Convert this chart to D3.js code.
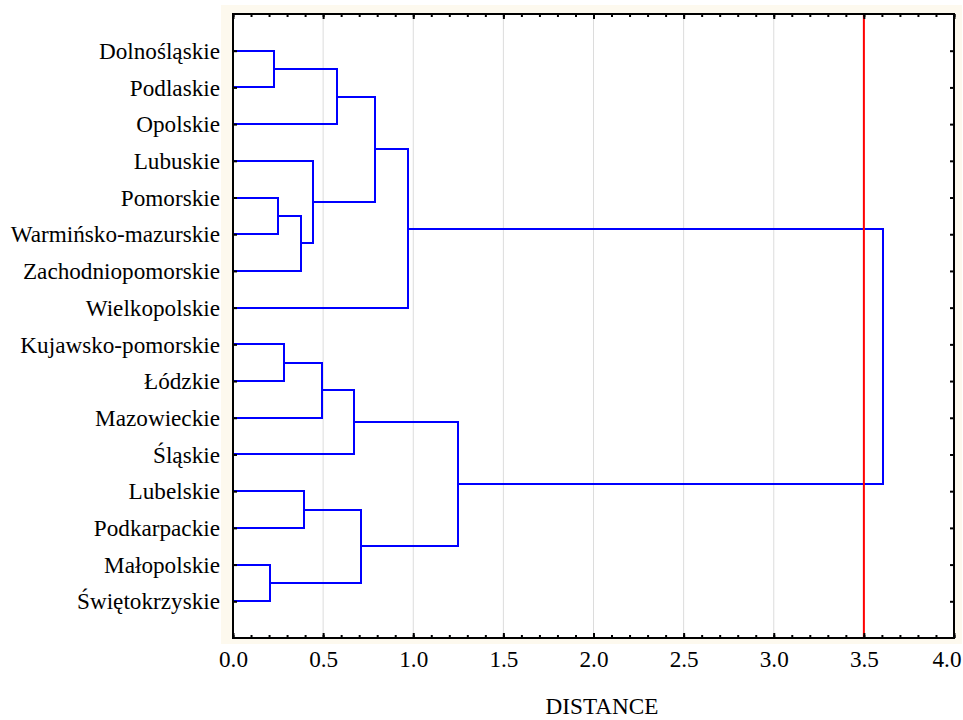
<!DOCTYPE html>
<html>
<head>
<meta charset="utf-8">
<script src="https://cdn.jsdelivr.net/npm/d3@7"></script>
<style>
  html, body { margin: 0; padding: 0; background: #ffffff; }
  svg { display: block; }
</style>
</head>
<body>
<script>
// ---------------- DATA ----------------
const leaves = [
  "Dolnośląskie", "Podlaskie", "Opolskie", "Lubuskie", "Pomorskie",
  "Warmińsko-mazurskie", "Zachodniopomorskie", "Wielkopolskie",
  "Kujawsko-pomorskie", "Łódzkie", "Mazowieckie", "Śląskie",
  "Lubelskie", "Podkarpackie", "Małopolskie", "Świętokrzyskie"
];
// Agglomeration steps: cluster ids 0..15 are leaves, new clusters get ids 16, 17, ...
const mergeA    = [0,     16,    4,     18,    3,     17,    21,    8,     23,    24,    12,    14,    26,    25,    22];
const mergeB    = [1,     2,     5,     6,     19,    20,    7,     9,     10,    11,    13,    15,    27,    28,    29];
const mergeDist = [0.228, 0.579, 0.248, 0.377, 0.445, 0.786, 0.969, 0.281, 0.496, 0.671, 0.392, 0.203, 0.712, 1.246, 3.607];
const xTicks = [0.0, 0.5, 1.0, 1.5, 2.0, 2.5, 3.0, 3.5, 4.0];
const xMinorTicks = d3.range(0, 41).map(d => d / 10);
const cutoff = 3.5;
const xTitle = "DISTANCE";

// ---------------- LAYOUT ----------------
const W = 963, H = 720;
const P = { left: 233, right: 954, top: 14, bottom: 638 };
const FONT = "'Liberation Serif', 'Times New Roman', serif";
const FS = 23.2;

const svg = d3.select("body").append("svg")
  .attr("width", W).attr("height", H)
  .style("font-family", FONT);

// cream backdrop around plot
svg.append("rect").attr("x", 221).attr("y", 5).attr("width", 741).attr("height", 639)
  .attr("fill", "#fdf9ee");
svg.append("rect").attr("x", P.left).attr("y", P.top)
  .attr("width", P.right - P.left).attr("height", P.bottom - P.top)
  .attr("fill", "#ffffff");

const x = d3.scaleLinear().domain([0, 4]).range([P.left, P.right]);
const y = d3.scalePoint().domain(d3.range(leaves.length)).range([P.top, P.bottom]).padding(1);

// grid
svg.append("g").selectAll("line")
  .data(xTicks.filter(d => d > 0 && d < 4))
  .join("line")
  .attr("x1", d => x(d)).attr("x2", d => x(d))
  .attr("y1", P.top).attr("y2", P.bottom)
  .attr("stroke", "#dcdcdc").attr("stroke-width", 1);

// dendrogram
const nodes = leaves.map((name, i) => ({ y: y(i), h: 0 }));
const paths = [];
mergeDist.forEach((h, k) => {
  const a = nodes[mergeA[k]], b = nodes[mergeB[k]];
  paths.push(`M${x(a.h)},${a.y}H${x(h)}V${b.y}H${x(b.h)}`);
  nodes.push({ y: (a.y + b.y) / 2, h });
});
svg.append("g").selectAll("path").data(paths).join("path")
  .attr("d", d => d)
  .attr("fill", "none")
  .attr("stroke", "#0000ff")
  .attr("stroke-width", 2)
  .attr("shape-rendering", "crispEdges");

// cutoff line
svg.append("line")
  .attr("x1", x(cutoff)).attr("x2", x(cutoff))
  .attr("y1", P.top).attr("y2", P.bottom)
  .attr("stroke", "#ff0000").attr("stroke-width", 2);

// axes
function styleAxis(g) {
  g.attr("font-family", null).attr("font-size", null);
  g.select(".domain").remove();
  g.selectAll(".tick line").attr("stroke", "#000").attr("stroke-width", 2);
  g.selectAll("text").attr("fill", "#000").style("font-family", FONT).style("font-size", FS + "px");
}
// bottom minor + major
svg.append("g").attr("transform", `translate(0,${P.bottom})`)
  .call(d3.axisBottom(x).tickValues(xMinorTicks).tickSize(-3).tickFormat(""))
  .call(styleAxis);
const bottom = svg.append("g").attr("transform", `translate(0,${P.bottom})`)
  .call(d3.axisBottom(x).tickValues(xTicks).tickSize(-5).tickFormat(d3.format(".1f")))
  .call(styleAxis);
bottom.selectAll(".tick text").attr("y", 29).attr("dy", 0);
bottom.selectAll(".tick").filter(d => d === 4).select("text")
  .attr("text-anchor", "end").attr("x", 961 - x(4));
// top minor + major
svg.append("g").attr("transform", `translate(0,${P.top})`)
  .call(d3.axisTop(x).tickValues(xMinorTicks).tickSize(-3).tickFormat(""))
  .call(styleAxis);
svg.append("g").attr("transform", `translate(0,${P.top})`)
  .call(d3.axisTop(x).tickValues(xTicks).tickSize(-5).tickFormat(""))
  .call(styleAxis);
// left with labels
svg.append("g").attr("transform", `translate(${P.left},0)`)
  .call(d3.axisLeft(y).tickSize(-4).tickPadding(13).tickFormat(i => leaves[i]))
  .call(styleAxis)
  .selectAll(".tick text").attr("dy", "0.33em");
// right
svg.append("g").attr("transform", `translate(${P.right},0)`)
  .call(d3.axisRight(y).tickSize(-4).tickFormat(""))
  .call(styleAxis);

// frame
svg.append("rect").attr("x", P.left).attr("y", P.top)
  .attr("width", P.right - P.left).attr("height", P.bottom - P.top)
  .attr("fill", "none").attr("stroke", "#000").attr("stroke-width", 2);

// axis title
svg.append("text").attr("x", 602).attr("y", 714)
  .attr("text-anchor", "middle")
  .style("font-size", FS + "px").attr("fill", "#000")
  .text(xTitle);
</script>
</body>
</html>
